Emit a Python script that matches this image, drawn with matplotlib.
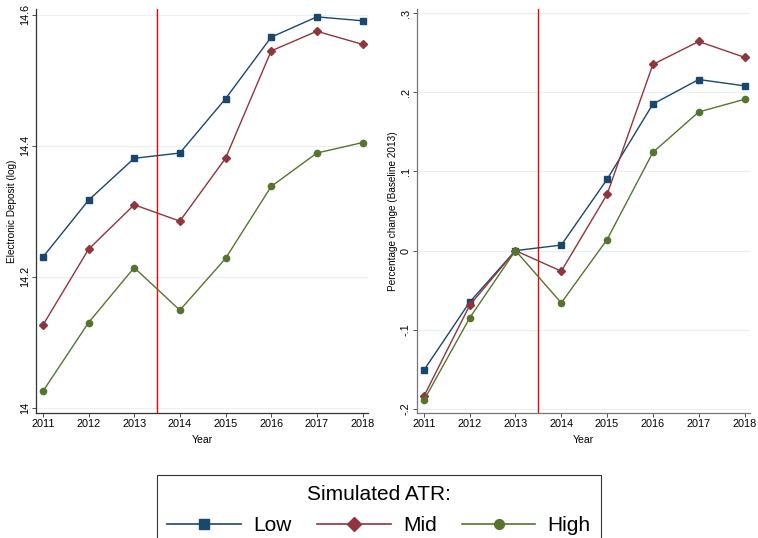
import matplotlib
matplotlib.use("Agg")
import matplotlib.pyplot as plt
from matplotlib.lines import Line2D

plt.rcParams["font.family"] = ["Liberation Sans", "DejaVu Sans"]

# data
years = [2011, 2012, 2013, 2014, 2015, 2016, 2017, 2018]

dep_low = [14.230, 14.317, 14.381, 14.389, 14.472, 14.566, 14.597, 14.591]
dep_mid = [14.126, 14.242, 14.310, 14.285, 14.381, 14.545, 14.575, 14.555]
dep_high = [14.025, 14.130, 14.214, 14.149, 14.228, 14.338, 14.389, 14.405]

pct_low = [-0.151, -0.065, 0.0, 0.007, 0.090, 0.185, 0.216, 0.208]
pct_mid = [-0.184, -0.069, 0.0, -0.026, 0.071, 0.235, 0.264, 0.244]
pct_high = [-0.189, -0.085, 0.0, -0.066, 0.014, 0.124, 0.175, 0.191]

left_ticks = [14.0, 14.2, 14.4, 14.6]
left_ticklabels = ["14", "14.2", "14.4", "14.6"]
right_ticks = [-0.2, -0.1, 0.0, 0.1, 0.2, 0.3]
right_ticklabels = ["-.2", "-.1", "0", ".1", ".2", ".3"]

series_names = ["Low", "Mid", "High"]
colors = ["#1a476f", "#90353b", "#55752f"]
markers = ["s", "D", "o"]
msizes = [5, 4.2, 4.5]

W, H = 758, 538
fig = plt.figure(figsize=(W / 100, H / 100), dpi=100)
fig.patch.set_facecolor("white")


def px_axes(x0, y0, x1, y1):
    return fig.add_axes([x0 / W, 1 - y1 / H, (x1 - x0) / W, (y1 - y0) / H])


def style_axes(ax, ylabel, yticks, yticklabels, ylim, spine_col):
    ax.set_xlim(2010.85, 2018.12)
    ax.set_ylim(*ylim)
    ax.set_xticks(years)
    ax.set_xticklabels([str(y) for y in years], fontsize=7.8)
    ax.set_yticks(yticks)
    ax.set_yticklabels(yticklabels, fontsize=7.8, rotation=90, va="center")
    ax.set_xlabel("Year", fontsize=7.5, labelpad=4)
    ax.set_ylabel(ylabel, fontsize=7.2, labelpad=2)
    for s in ["top", "right"]:
        ax.spines[s].set_visible(False)
    for s in ["left", "bottom"]:
        ax.spines[s].set_color(spine_col)
        ax.spines[s].set_linewidth(0.9)
    ax.tick_params(axis="both", direction="out", length=3, width=0.6, colors="#333333", pad=1.5)
    ax.tick_params(axis="both", labelcolor="black")
    ax.grid(axis="y", color="#e8f0f1", linewidth=0.9)
    ax.set_axisbelow(True)
    ax.axvline(2013.5, color="#ff0000", linewidth=1.0, zorder=1)


ax1 = px_axes(36, 9, 368, 413)
for vals, c, m, ms in zip([dep_low, dep_mid, dep_high], colors, markers, msizes):
    ax1.plot(years, vals, color=c, marker=m, markersize=ms, linewidth=1.0, zorder=3)
style_axes(ax1, "Electronic Deposit (log)", left_ticks, left_ticklabels, (13.992, 14.609), "#333333")

ax2 = px_axes(417, 9, 750, 413)
for vals, c, m, ms in zip([pct_low, pct_mid, pct_high], colors, markers, msizes):
    ax2.plot(years, vals, color=c, marker=m, markersize=ms, linewidth=1.0, zorder=3)
style_axes(ax2, "Percentage change (Baseline 2013)", right_ticks, right_ticklabels, (-0.205, 0.305), "#777777")

handles = [Line2D([0], [0], color=c, marker=m, markersize=ms + 2.5, linewidth=1.2)
           for c, m, ms in zip(colors, markers, msizes)]
leg = fig.legend(handles, series_names, loc="upper center", bbox_to_anchor=(379 / W, 1 - 475 / H),
                 ncol=3, fontsize=15, title="Simulated ATR:", title_fontsize=15,
                 frameon=True, fancybox=False, edgecolor="black", handlelength=3.55,
                 columnspacing=1.2, handletextpad=0.58, borderpad=0.5, labelspacing=0.55,
                 borderaxespad=0)
leg.get_frame().set_linewidth(0.8)

fig.savefig("out.png", dpi=100)
